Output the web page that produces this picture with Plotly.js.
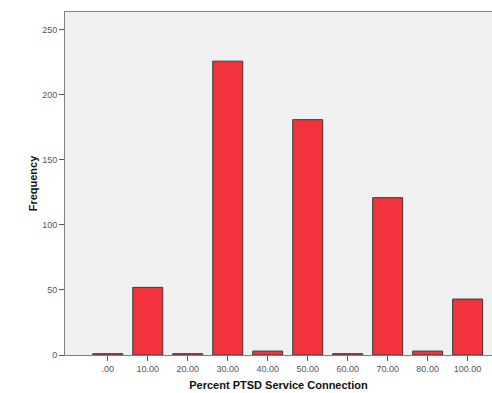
<!DOCTYPE html>
<html><head><meta charset="utf-8">
<script src="https://cdn.plot.ly/plotly-3.0.1.min.js"></script>
<style>html,body{margin:0;padding:0;background:#fff}#c{width:492px;height:393px}</style>
</head><body><div id="c"></div>
<script>
const categories = [".00","10.00","20.00","30.00","40.00","50.00","60.00","70.00","80.00","100.00"];
const frequency = [1, 52, 1, 226, 3, 181, 1, 121, 3, 43];
const yTicks = [0, 50, 100, 150, 200, 250];

const trace = {
  type: 'bar', x: categories, y: frequency,
  marker: {color: '#f2323c', line: {color: '#3a3a3a', width: 1}},
  width: 0.75, hoverinfo: 'x+y'
};
const layout = {
  width: 492, height: 393,
  margin: {l: 65, r: 0, t: 12, b: 38},
  paper_bgcolor: '#ffffff', plot_bgcolor: '#f0f0f0',
  font: {family: 'Liberation Sans, Arial, sans-serif', color: '#555'},
  showlegend: false,
  xaxis: {
    type: 'category', range: [-1.07, 9.61],
    showline: true, linecolor: '#808080', linewidth: 1, mirror: true,
    ticks: 'outside', ticklen: 5, tickcolor: '#555', tickwidth: 1,
    tickfont: {size: 9, color: '#555'}, showgrid: false,
    title: {text: 'Percent PTSD Service Connection', font: {size: 11, color: '#111', family: 'Liberation Sans, Arial, sans-serif', weight: 'bold'}, standoff: 8}
  },
  yaxis: {
    range: [0, 263.8], tickvals: yTicks, ticktext: yTicks.map(String),
    showline: true, linecolor: '#808080', linewidth: 1, mirror: true,
    ticks: 'outside', ticklen: 5, tickcolor: '#555', tickwidth: 1,
    tickfont: {size: 9, color: '#555'}, showgrid: false, zeroline: false,
    title: {text: 'Frequency', font: {size: 11, color: '#111', family: 'Liberation Sans, Arial, sans-serif', weight: 'bold'}, standoff: 2}
  }
};
Plotly.newPlot('c', [trace], layout, {displayModeBar: false, staticPlot: true});
</script></body></html>
